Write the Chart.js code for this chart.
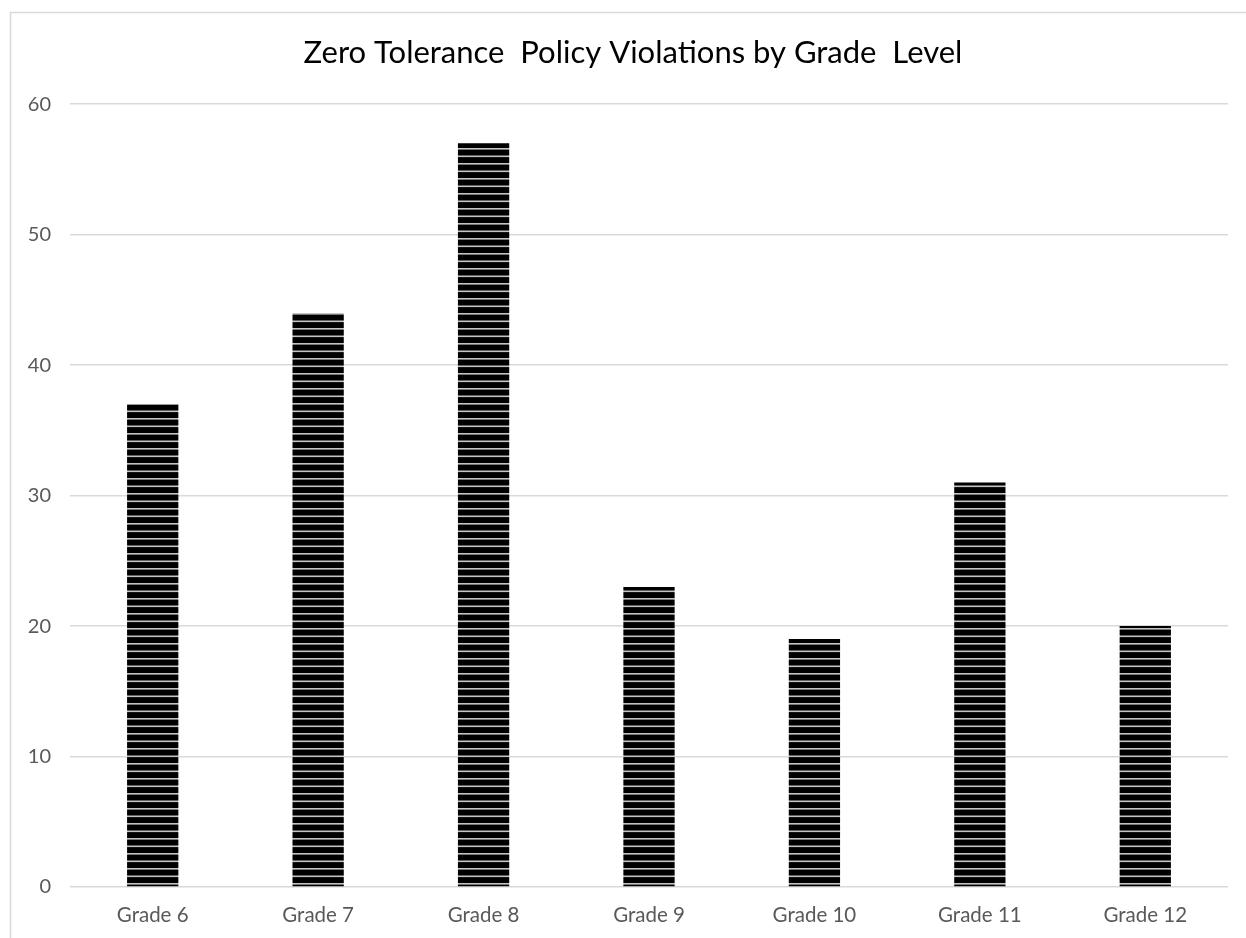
<!DOCTYPE html>
<html>
<head>
<meta charset="utf-8">
<script src="https://cdn.jsdelivr.net/npm/chart.js@4/dist/chart.umd.min.js"></script>
<style>
  html, body { margin: 0; padding: 0; background: #fff; overflow: hidden; }
  .wrap { position: relative; width: 1246px; height: 938px; }
</style>
</head>
<body>
<div class="wrap"><canvas id="chart"></canvas></div>
<script>
const grades = ["Grade 6", "Grade 7", "Grade 8", "Grade 9", "Grade 10", "Grade 11", "Grade 12"];
const violations = [37, 44, 57, 23, 19, 31, 20];
const chartTitle = "Zero Tolerance  Policy Violations by Grade  Level";

// horizontal stripe fill, like the Excel pattern
function stripes() {
    let c = document.createElement("canvas");
    c.width = 8;
    c.height = 15;
    let g = c.getContext("2d");
    g.fillStyle = "#000";
    g.fillRect(0, 0, 8, 15);
    g.fillStyle = "#c4c4c4";
    g.fillRect(0, 5.5, 8, 1.6);
    g.fillRect(0, 13, 8, 1.6);
    return g.createPattern(c, "repeat");
}

// outer frame of the chart area (only top and left visible)
// also nudges the title a bit right, Excel centres it on the whole frame
const frame = {
    id: "frame",
    afterLayout(chart) {
        if (chart.titleBlock) {
            chart.titleBlock.left += 19;
            chart.titleBlock.right += 19;
        }
    },
    beforeDraw(chart) {
        let ctx = chart.ctx;
        ctx.save();
        ctx.strokeStyle = "#d9d9d9";
        ctx.lineWidth = 1.5;
        ctx.beginPath();
        ctx.moveTo(10.5, 940);
        ctx.lineTo(10.5, 12.5);
        ctx.lineTo(1250, 12.5);
        ctx.stroke();
        ctx.restore();
    }
};

const ctx = document.getElementById("chart");

new Chart(ctx, {
    type: "bar",
    data: {
        labels: grades,
        datasets: [{
            data: violations,
            backgroundColor: stripes(),
            borderWidth: 0,
            categoryPercentage: 1,
            barPercentage: 0.31
        }]
    },
    options: {
        responsive: true,
        maintainAspectRatio: false,
        animation: false,
        layout: { padding: { top: 0, right: 18, left: 0, bottom: 0 } },
        plugins: {
            legend: { display: false },
            tooltip: { enabled: false },
            title: {
                display: true,
                text: chartTitle,
                color: "#000",
                font: { family: "Lato", size: 31, weight: "normal" },
                padding: { top: 34, bottom: 33 }
            }
        },
        scales: {
            x: {
                afterFit(scale) { scale.height = 51; },
                grid: { display: false, drawTicks: false },
                border: { display: false },
                ticks: {
                    color: "#595959",
                    font: { family: "Lato", size: 20.5 },
                    padding: 16
                }
            },
            y: {
                min: 0,
                max: 60,
                afterFit(scale) { scale.width = 70; },
                grid: { color: "#d9d9d9", lineWidth: 1.5, drawTicks: false },
                border: { display: false },
                ticks: {
                    stepSize: 10,
                    color: "#595959",
                    font: { family: "Lato", size: 20 },
                    padding: 19
                }
            }
        }
    },
    plugins: [frame]
});
</script>
</body>
</html>
